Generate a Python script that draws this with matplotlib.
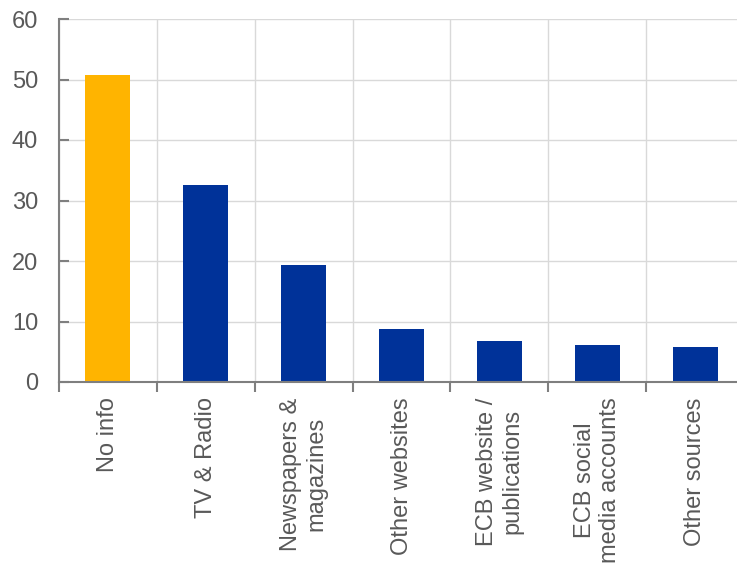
import matplotlib
matplotlib.use("Agg")
import matplotlib.pyplot as plt
import numpy as np

categories = ["No info", "TV & Radio", "Newspapers &\nmagazines", "Other websites",
              "ECB website /\npublications", "ECB social\nmedia accounts", "Other sources"]
values = [50.7, 32.6, 19.3, 8.7, 6.7, 6.1, 5.8]
colors = ["#FFB400", "#003299", "#003299", "#003299", "#003299", "#003299", "#003299"]
yticks = [0, 10, 20, 30, 40, 50, 60]

plt.rcParams['font.family'] = ['Liberation Sans', 'DejaVu Sans']

fig = plt.figure(figsize=(7.37, 5.68), dpi=100)
ax = fig.add_axes([59/737, (568-382)/568, 685/737, (382-19)/568])

x = np.arange(len(categories))
ax.bar(x, values, width=0.46, color=colors, zorder=3)

ax.set_xlim(-0.5, len(categories) - 0.5)
ax.set_ylim(0, 60)
ax.set_yticks(yticks)
ax.set_xticks(x)
ax.set_xticklabels(categories, rotation=90, ha='center', va='top', multialignment='center')
ax.set_xticks(np.arange(len(categories) + 1) - 0.5, minor=True)

gray = "#7f7f7f"
txt = "#595959"
for s in ["top", "right"]:
    ax.spines[s].set_visible(False)
for s in ["left", "bottom"]:
    ax.spines[s].set_color(gray)
    ax.spines[s].set_linewidth(1.5)
    ax.spines[s].set_zorder(4)

ax.tick_params(axis='y', direction='in', length=7, width=1.5, color=gray,
               labelsize=17, labelcolor=txt, pad=15)
ax.tick_params(axis='x', which='major', length=0, labelsize=17, labelcolor=txt, pad=11)
ax.tick_params(axis='x', which='minor', direction='out', length=7, width=1.5, color=gray)

ax.grid(axis='y', color="#d9d9d9", linewidth=1, zorder=0)
ax.grid(axis='x', which='minor', color="#d9d9d9", linewidth=1, zorder=0)
ax.set_axisbelow(True)

fig.savefig("out.png", dpi=100)
